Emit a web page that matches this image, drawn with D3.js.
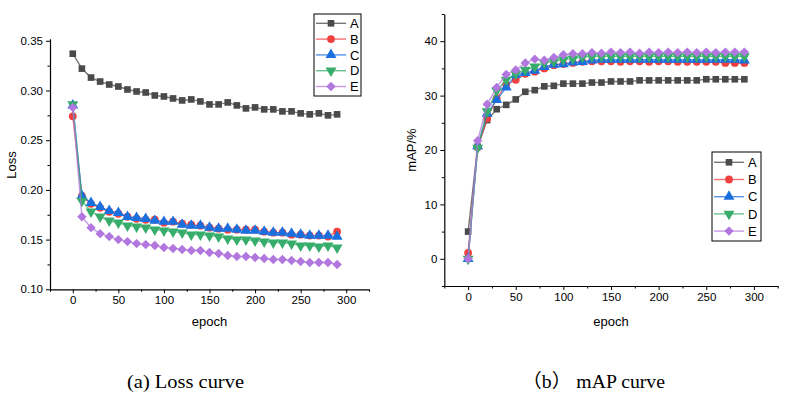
<!DOCTYPE html>
<html><head><meta charset="utf-8">
<script src="https://cdn.jsdelivr.net/npm/d3@7"></script>
<style>body{margin:0;background:#fff}svg{display:block}</style>
</head><body>
<svg id="c" width="787" height="397"></svg>
<script>
const epochs = [0,10,20,30,40,50,60,70,80,90,100,110,120,130,140,150,160,170,180,190,200,210,220,230,240,250,260,270,280,290];
const seriesNames = ["A","B","C","D","E"];
const lossA = [0.337,0.322,0.313,0.309,0.306,0.304,0.301,0.299,0.298,0.295,0.294,0.292,0.290,0.291,0.289,0.286,0.286,0.288,0.285,0.282,0.283,0.281,0.281,0.279,0.279,0.277,0.276,0.277,0.275,0.276];
const lossB = [0.274,0.194,0.186,0.182,0.178,0.176,0.173,0.171,0.170,0.170,0.167,0.168,0.166,0.165,0.164,0.162,0.161,0.160,0.160,0.160,0.160,0.158,0.157,0.157,0.155,0.155,0.154,0.154,0.153,0.158];
const lossC = [0.285,0.194,0.187,0.183,0.179,0.177,0.173,0.172,0.171,0.169,0.168,0.168,0.165,0.164,0.164,0.162,0.161,0.161,0.160,0.159,0.159,0.158,0.157,0.157,0.156,0.155,0.154,0.154,0.154,0.153];
const lossD = [0.286,0.189,0.178,0.173,0.169,0.167,0.164,0.163,0.162,0.160,0.159,0.158,0.157,0.155,0.155,0.154,0.153,0.151,0.150,0.150,0.149,0.148,0.147,0.147,0.146,0.144,0.144,0.143,0.144,0.142];
const lossE = [0.283,0.173,0.162,0.156,0.153,0.150,0.148,0.146,0.145,0.144,0.142,0.141,0.140,0.139,0.139,0.137,0.136,0.134,0.133,0.133,0.132,0.131,0.130,0.130,0.129,0.128,0.127,0.127,0.127,0.125];
const mapA = [5.0,20.6,25.5,27.5,28.3,29.3,30.7,31.0,31.7,31.8,32.2,32.2,32.2,32.4,32.4,32.6,32.6,32.6,32.8,32.8,32.8,32.8,32.8,32.8,32.8,33.0,33.0,33.0,33.0,33.0];
const mapB = [1.1,20.5,25.8,29.5,32.0,32.9,34.0,34.4,35.0,35.6,35.8,36.0,36.2,36.3,36.3,36.3,36.2,36.3,36.3,36.2,36.3,36.3,36.2,36.2,36.2,36.2,36.2,36.0,36.0,36.0];
const mapC = [0.0,20.7,26.7,29.2,31.5,33.8,34.2,34.6,35.3,35.7,35.8,36.1,36.2,36.5,36.6,36.6,36.6,36.6,36.6,36.6,36.6,36.6,36.6,36.6,36.6,36.6,36.6,36.6,36.6,36.5];
const mapD = [0.0,20.4,27.1,30.9,32.9,34.0,34.7,35.3,36.0,36.3,36.6,36.8,37.1,37.2,37.2,37.2,37.2,37.2,37.2,37.2,37.2,37.2,37.2,37.2,37.2,37.2,37.2,37.2,37.2,37.2];
const mapE = [0.0,21.7,28.4,31.5,33.9,34.7,36.0,36.7,36.5,37.0,37.5,37.7,37.7,37.9,37.8,38.0,37.9,38.0,37.8,38.0,37.9,38.0,37.9,38.0,37.9,38.0,37.9,38.0,38.0,38.0];
const lossTicks = [0.10,0.15,0.20,0.25,0.30,0.35];
const mapTicks = [0,10,20,30,40];
const epochTicks = [0,50,100,150,200,250,300];
const captions = ["(a) Loss curve","（b） mAP curve"];

const colors = ["#4a4a4a","#f14040","#1a6fdf","#37ad6b","#b177de"];
const shapes = ["square","circle","up","down","diamond"];
const svg = d3.select("#c");
const font = "'Liberation Sans', Arial, sans-serif";

function marker(g, i, x, y){
  const s = shapes[i];
  let d, rot = 0;
  if (s === "square") d = d3.symbol(d3.symbolSquare, 44)();
  else if (s === "circle") d = d3.symbol(d3.symbolCircle, 48)();
  else if (s === "up") d = d3.symbol(d3.symbolTriangle, 52)();
  else if (s === "down") { d = d3.symbol(d3.symbolTriangle, 52)(); rot = 180; }
  else { d = d3.symbol(d3.symbolSquare, 44)(); rot = 45; }
  g.append("path").attr("d", d).attr("transform",`translate(${x},${y}) rotate(${rot})`).attr("fill", colors[i]);
}

function panel(cfg){
  const g = svg.append("g");
  const x = d3.scaleLinear().domain([-25,325]).range(cfg.xr);
  const y = d3.scaleLinear().domain(cfg.yd).range(cfg.yr);
  g.append("g").attr("transform",`translate(0,${cfg.yr[0]})`)
    .call(d3.axisBottom(x).tickValues(epochTicks).tickSize(4).tickSizeOuter(0).tickPadding(3));
  const axm = g.append("g").attr("transform",`translate(0,${cfg.yr[0]})`)
    .call(d3.axisBottom(x).tickValues([-25,25,75,125,175,225,275,325]).tickSize(2.5).tickFormat(""));
  axm.select(".domain").remove();
  g.append("g").attr("transform",`translate(${cfg.xr[0]},0)`)
    .call(d3.axisLeft(y).tickValues(cfg.ticks).tickSize(4).tickSizeOuter(0).tickPadding(3).tickFormat(cfg.fmt));
  const aym = g.append("g").attr("transform",`translate(${cfg.xr[0]},0)`)
    .call(d3.axisLeft(y).tickValues(cfg.minor).tickSize(2.5).tickFormat(""));
  aym.select(".domain").remove();
  g.selectAll(".domain").attr("stroke","#000").attr("stroke-width",1.2);
  g.selectAll(".tick line").attr("stroke","#000").attr("stroke-width",1);
  g.selectAll(".tick text").attr("font-family",font).attr("font-size","11.5px").attr("fill","#000");
  g.append("text").attr("x",(x(0)+x(300))/2).attr("y",326).attr("text-anchor","middle")
    .attr("font-family",font).attr("font-size","13px").text("epoch");
  g.append("text").attr("transform",`translate(${cfg.ytx},${cfg.yty}) rotate(-90)`).attr("text-anchor","middle")
    .attr("font-family",font).attr("font-size","13px").text(cfg.ytitle);
  const line = d3.line().x((d,j)=>x(epochs[j])).y(d=>y(d));
  cfg.data.forEach((s,i)=>{
    g.append("path").attr("d",line(s)).attr("fill","none").attr("stroke",colors[i])
      .attr("stroke-width",1.4).attr("stroke-opacity",0.75);
    const mg = g.append("g");
    s.forEach((v,j)=>marker(mg,i,x(epochs[j]),y(v)));
  });
  const L = cfg.leg;
  g.append("rect").attr("x",L.x).attr("y",L.y).attr("width",L.w).attr("height",L.h)
    .attr("fill","#fff").attr("stroke","#000").attr("stroke-width",1);
  seriesNames.forEach((n,i)=>{
    const yy = L.y0 + i*L.dy;
    g.append("line").attr("x1",L.x+2).attr("x2",L.x+32).attr("y1",yy).attr("y2",yy)
      .attr("stroke",colors[i]).attr("stroke-width",1.4).attr("stroke-opacity",0.75);
    marker(g,i,L.x+17,yy);
    g.append("text").attr("x",L.x+36).attr("y",yy+4.6).attr("font-family",font)
      .attr("font-size","13px").text(n);
  });
}

panel({xr:[50,369], yd:[0.10,0.352], yr:[289.3,38.8], ticks:lossTicks,
  minor:[0.125,0.175,0.225,0.275,0.325], fmt:d3.format(".2f"),
  ytitle:"Loss", ytx:15.5, yty:165,
  data:[lossA,lossB,lossC,lossD,lossE],
  leg:{x:314,y:14,w:47,h:82,y0:23.3,dy:15.8}});
panel({xr:[444.3,777.7], yd:[-5,45], yr:[286,14], ticks:mapTicks,
  minor:[-5,5,15,25,35,45], fmt:d3.format("d"),
  ytitle:"mAP/%", ytx:416, yty:150,
  data:[mapA,mapB,mapC,mapD,mapE],
  leg:{x:712,y:152,w:49,h:89,y0:162.3,dy:17.2}});

svg.append("text").attr("x",127).attr("y",388).attr("font-family","'Liberation Serif','Times New Roman',serif")
  .attr("font-size","19px").attr("textLength",117).attr("lengthAdjust","spacingAndGlyphs").text(captions[0]);
svg.append("text").attr("x",522).attr("y",388).attr("font-family","'Liberation Serif','Times New Roman','Noto Sans CJK SC',serif")
  .attr("font-size","19px").attr("textLength",143).attr("lengthAdjust","spacingAndGlyphs").text(captions[1]);
</script>
</body></html>
